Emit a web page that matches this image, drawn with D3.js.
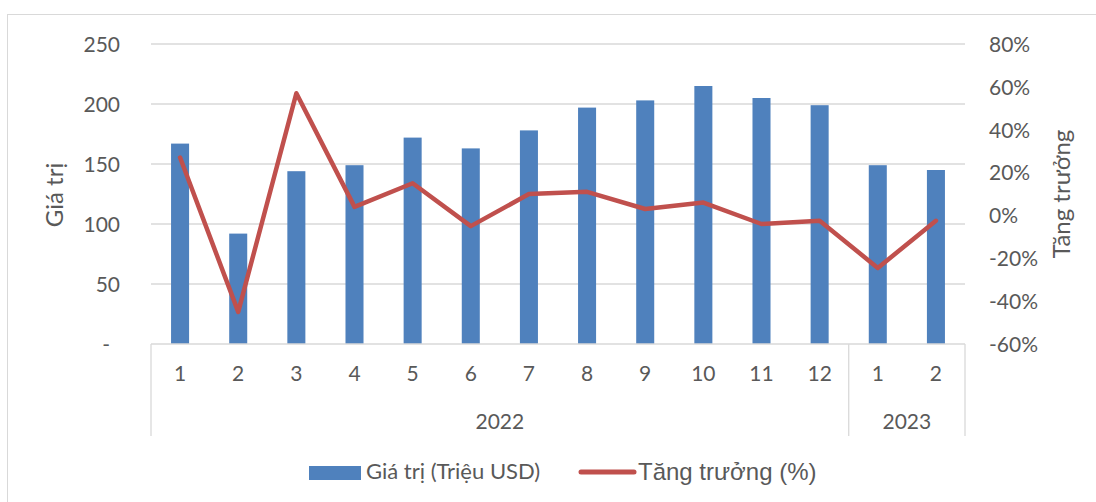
<!DOCTYPE html>
<html><head><meta charset="utf-8">
<script src="https://cdn.jsdelivr.net/npm/d3@7"></script>
<style>body{margin:0;background:#fff}svg{display:block;font-family:Lato,"Open Sans",sans-serif}</style>
</head><body><svg id="c" width="1096" height="502"></svg>
<script>
const months = ["1","2","3","4","5","6","7","8","9","10","11","12","1","2"];
const years = ["2022","2022","2022","2022","2022","2022","2022","2022","2022","2022","2022","2022","2023","2023"];
const values = [167, 92, 144, 149, 172, 163, 178, 197, 203, 215, 205, 199, 149, 145];
const growth = [27, -45, 57, 4, 15, -5, 10, 11, 3, 6, -4, -2.5, -24.5, -2.5];
const leftTicks = [0, 50, 100, 150, 200, 250];
const rightTicks = [-60, -40, -20, 0, 20, 40, 60, 80];

const svg = d3.select("#c");
const m = {l:151, r:965, t:44, b:344};
const idx = d3.range(months.length);
const x = d3.scaleBand().domain(idx).range([m.l, m.r]).paddingInner(0.69).paddingOuter(0.345);
const yL = d3.scaleLinear().domain([0,250]).range([m.b, m.t]);
const yR = d3.scaleLinear().domain([-60,80]).range([m.b, m.t]);
const textCol = "#595959", gridCol = "#D9D9D9";
const fs = 21;

// frame
svg.append("rect").attr("x",7.5).attr("y",14.5).attr("width",1100).attr("height",500)
  .attr("fill","none").attr("stroke","#D9D9D9").attr("stroke-width",1);

// gridlines
svg.append("g").selectAll("line").data(leftTicks.slice(1)).join("line")
  .attr("x1",m.l).attr("x2",m.r).attr("y1",d=>yL(d)).attr("y2",d=>yL(d))
  .attr("stroke",gridCol).attr("stroke-width",1.3);

// left axis labels
const gl = svg.append("g").attr("transform",`translate(${m.l-28},0)`)
  .call(d3.axisLeft(yL).tickValues(leftTicks).tickSize(0).tickFormat(d=>d===0?"-":d));
gl.select(".domain").remove();
gl.selectAll("text").attr("fill",textCol).attr("font-size",fs).attr("font-family","Lato").attr("dy","0.35em").attr("dx", d=> d===0 ? -10 : 0);

const gr = svg.append("g").attr("transform",`translate(${m.r+21},0)`)
  .call(d3.axisRight(yR).tickValues(rightTicks).tickSize(0).tickFormat(d=>d+"%"));
gr.select(".domain").remove();
gr.selectAll("text").attr("fill",textCol).attr("font-size",fs).attr("font-family","Lato").attr("dy","0.35em");

// bars
svg.append("g").selectAll("rect").data(values).join("rect")
  .attr("x",(d,i)=>x(i)).attr("width",x.bandwidth())
  .attr("y",d=>yL(d)).attr("height",d=>yL(0)-yL(d)).attr("fill","#4F81BD");

// category axis
const ax = svg.append("g");
ax.append("line").attr("x1",m.l).attr("x2",m.r).attr("y1",m.b).attr("y2",m.b).attr("stroke",gridCol).attr("stroke-width",1.3);
const step = x.step();
const groups = d3.groups(idx, i=>years[i]);
const bounds = [m.l];
groups.forEach(([yr, arr])=>{ bounds.push(x(arr[arr.length-1]) + x.bandwidth()/2 + step/2); });
bounds.forEach(b=>ax.append("line").attr("x1",b).attr("x2",b).attr("y1",m.b).attr("y2",436).attr("stroke",gridCol).attr("stroke-width",1.3));
ax.selectAll("text.m").data(idx).join("text").attr("class","m")
  .attr("x",i=>x(i)+x.bandwidth()/2).attr("y",381).attr("text-anchor","middle")
  .attr("fill",textCol).attr("font-size",fs).text(i=>months[i]);
groups.forEach(([yr,arr],k)=>{
  ax.append("text").attr("x",(bounds[k]+bounds[k+1])/2).attr("y",429).attr("text-anchor","middle")
    .attr("fill",textCol).attr("font-size",fs).text(yr);
});

// line
const line = d3.line().x((d,i)=>x(i)+x.bandwidth()/2).y(d=>yR(d));
svg.append("path").datum(growth).attr("d",line).attr("fill","none")
  .attr("stroke","#C0504D").attr("stroke-width",4.5).attr("stroke-linejoin","round").attr("stroke-linecap","round");

// axis titles
svg.append("text").attr("transform","translate(63,195) rotate(-90)").attr("text-anchor","middle")
  .attr("fill",textCol).attr("font-size",24).text("Giá trị");
svg.append("text").attr("transform","translate(1070,194) rotate(-90)").attr("text-anchor","middle")
  .attr("fill",textCol).attr("font-size",24).text("Tăng trưởng");

// legend
const lg = svg.append("g");
lg.append("rect").attr("x",309).attr("y",466).attr("width",52).attr("height",14).attr("fill","#4F81BD");
lg.append("text").attr("x",366).attr("y",479).attr("fill",textCol).attr("font-size",22).text("Giá trị (Triệu USD)");
lg.append("line").attr("x1",581).attr("x2",634).attr("y1",472).attr("y2",472).attr("stroke","#C0504D").attr("stroke-width",5).attr("stroke-linecap","round");
lg.append("text").attr("x",638).attr("y",480).attr("fill",textCol).attr("font-family","Liberation Sans").attr("font-size",24).text("Tăng trưởng (%)");
</script></body></html>
